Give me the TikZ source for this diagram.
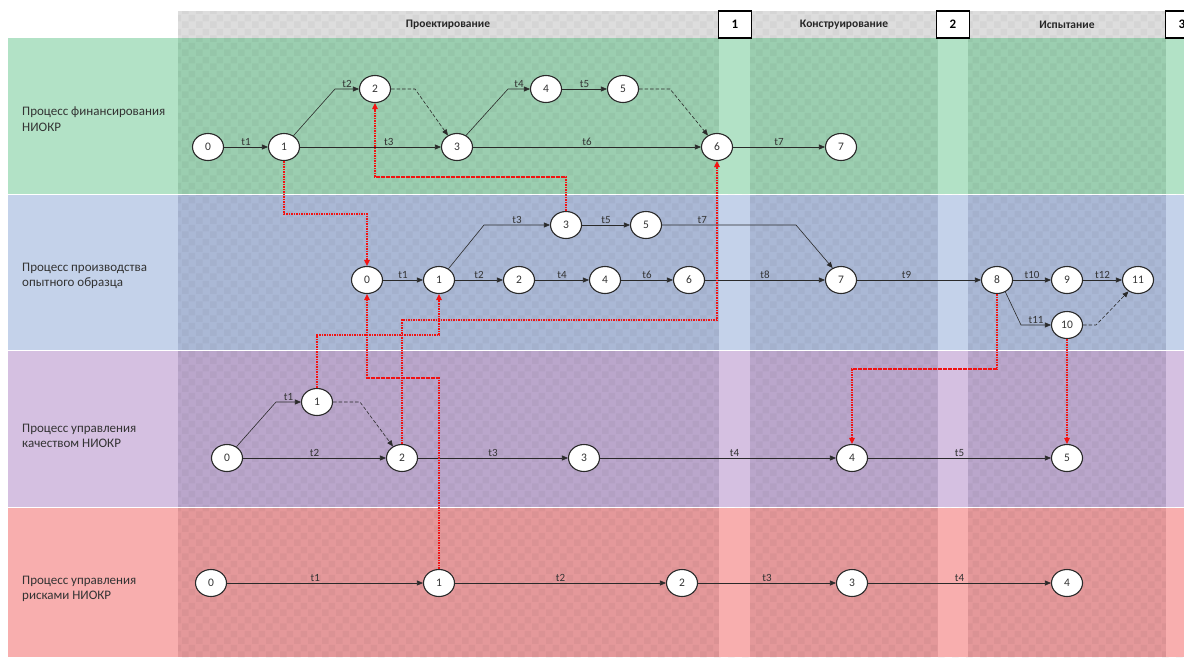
\documentclass[tikz,border=0pt]{standalone}
\usepackage{fontspec}
\setmainfont{Carlito}
\usetikzlibrary{shapes.geometric,arrows.meta,patterns.meta}

\definecolor{grnL}{HTML}{B2E2C6}
\definecolor{grnM}{HTML}{9BCEB0}
\definecolor{bluL}{HTML}{C4D2EA}
\definecolor{bluM}{HTML}{AAB8D5}
\definecolor{purL}{HTML}{D5C0E1}
\definecolor{purM}{HTML}{BAA6CB}
\definecolor{redL}{HTML}{F8AEAE}
\definecolor{redM}{HTML}{E4989A}
\definecolor{hdr}{HTML}{DDDDDD}
\definecolor{ink}{HTML}{2A2A2A}
\definecolor{txt}{HTML}{333333}
\definecolor{depred}{HTML}{F21212}

% soft checkered texture of the working areas
\tikzdeclarepattern{
  name=softcheck,
  type=uncolored,
  bottom left={(0pt,0pt)},
  top right={(14pt,14pt)},
  tile size={(14pt,14pt)},
  code={
    \fill (0pt,0pt) rectangle (7pt,7pt);
    \fill (7pt,7pt) rectangle (14pt,14pt);
  }
}

\begin{document}
\begin{tikzpicture}[x=1pt,y=-1pt,
  ev/.style={ellipse, draw=ink, line width=1.1pt, fill=white,
    minimum width=31pt, minimum height=27pt, inner sep=0pt,
    font=\fontsize{11.5}{11.5}\selectfont, text=txt},
  act/.style={draw=ink, line width=0.6pt, -{Triangle[length=6pt,width=5pt]}},
  dum/.style={act, dash pattern=on 3.5pt off 2pt},
  dep/.style={draw=depred, line width=1.6pt, dash pattern=on 1.6pt off 0.9pt,
    -{Triangle[length=6pt,width=5.5pt]}},
  tl/.style={above, inner sep=1.5pt, font=\fontsize{11}{12}\selectfont, text=txt},
  lanelbl/.style={anchor=west, inner sep=0pt, align=left,
    font=\fontsize{13}{15.5}\selectfont, text=txt},
  phase/.style={font=\bfseries\fontsize{11.5}{12}\selectfont, text=black!85},
  gate/.style={draw=black, line width=1.2pt, fill=white, minimum width=33pt,
    minimum height=27pt, inner sep=0pt, font=\bfseries\fontsize{13}{13}\selectfont},
  texture/.style={pattern=softcheck, pattern color=black, opacity=0.035}
]
\useasboundingbox (0,0) rectangle (1184,657);
\fill[white] (0,0) rectangle (1184,657);

% header strip with phase names
\fill[hdr] (178,11) rectangle (1184,38);

% swim lanes: label column, working area, light milestone strips
\fill[grnL] (8,38) rectangle (178,194);
\fill[grnM] (178,38) rectangle (1184,194);
\fill[bluL] (8,195) rectangle (178,350);
\fill[bluM] (178,195) rectangle (1184,350);
\fill[purL] (8,351) rectangle (178,507);
\fill[purM] (178,351) rectangle (1184,507);
\fill[redL] (8,508) rectangle (178,657);
\fill[redM] (178,508) rectangle (1184,657);
\fill[texture] (178,11) rectangle (1184,657);
\foreach \xa/\xb in {719/750, 938/968, 1166/1184}{
  \fill[grnL] (\xa,38) rectangle (\xb,194);
  \fill[bluL] (\xa,195) rectangle (\xb,350);
  \fill[purL] (\xa,351) rectangle (\xb,507);
  \fill[redL] (\xa,508) rectangle (\xb,657);
}
\foreach \yy in {194.5,350.5,507.5}{
  \draw[white, opacity=0.7, line width=1.5pt] (8,\yy) -- (1184,\yy);
}

% phase names and milestone gates
\node[phase] (phA) at (448,25) {Проектирование};
\node[phase] (phB) at (844,25) {Конструирование};
\node[phase] (phC) at (1067,25) {Испытание};
\node[gate] (gate1) at (735,24.5) {1};
\node[gate] (gate2) at (953,24.5) {2};
\node[gate] (gate3) at (1182,24.5) {3};

% lane titles
\node[lanelbl] (lblG) at (22,119) {Процесс финансирования\\НИОКР};
\node[lanelbl] (lblB) at (22,276) {Процесс производства\\опытного образца};
\node[lanelbl] (lblP) at (22,436) {Процесс управления\\качеством НИОКР};
\node[lanelbl] (lblR) at (22,589) {Процесс управления\\рисками НИОКР};

% financing events
\node[ev] (G0) at (208,147) {0};
\node[ev] (G1) at (284,147) {1};
\node[ev] (G2) at (375,89) {2};
\node[ev] (G3) at (457,147) {3};
\node[ev] (G4) at (546,89) {4};
\node[ev] (G5) at (623,89) {5};
\node[ev] (G6) at (717,147) {6};
\node[ev] (G7) at (841,147) {7};

% prototype production events
\node[ev] (B0) at (367,280) {0};
\node[ev] (B1) at (439,280) {1};
\node[ev] (B2) at (519,280) {2};
\node[ev] (B3) at (566,225) {3};
\node[ev] (B4) at (605,280) {4};
\node[ev] (B5) at (646,225) {5};
\node[ev] (B6) at (689,280) {6};
\node[ev] (B7) at (841,280) {7};
\node[ev] (B8) at (997,280) {8};
\node[ev] (B9) at (1067,280) {9};
\node[ev] (B10) at (1067,325) {10};
\node[ev] (B11) at (1138,280) {11};

% quality management events
\node[ev] (P0) at (227,458) {0};
\node[ev] (P1) at (317,402) {1};
\node[ev] (P2) at (402,458) {2};
\node[ev] (P3) at (584,458) {3};
\node[ev] (P4) at (852,458) {4};
\node[ev] (P5) at (1067,458) {5};

% risk management events
\node[ev] (R0) at (211,583) {0};
\node[ev] (R1) at (439,583) {1};
\node[ev] (R2) at (682,583) {2};
\node[ev] (R3) at (852,583) {3};
\node[ev] (R4) at (1067,583) {4};

% financing activities
\draw[act] (G0) -- node[tl]{t1} (G1);
\draw[act] (G1.50) -- (335,89) -- node[tl]{t2} (G2);
\draw[dum] (G2) -- (415,89) -- (G3.128);
\draw[act] (G1) -- node[tl,pos=0.63]{t3} (G3);
\draw[act] (G3.52) -- (508,89) -- node[tl]{t4} (G4);
\draw[act] (G4) -- node[tl]{t5} (G5);
\draw[dum] (G5) -- (670,89) -- (G6.128);
\draw[act] (G3) -- node[tl]{t6} (G6);
\draw[act] (G6) -- node[tl]{t7} (G7);

% production activities
\draw[act] (B0) -- node[tl]{t1} (B1);
\draw[act] (B1.50) -- (484,225) -- node[tl]{t3} (B3);
\draw[act] (B1) -- node[tl]{t2} (B2);
\draw[act] (B3) -- node[tl]{t5} (B5);
\draw[act] (B2) -- node[tl]{t4} (B4);
\draw[act] (B4) -- node[tl]{t6} (B6);
\draw[act] (B5) -- node[tl,pos=0.3]{t7} (796,225) -- (B7.125);
\draw[act] (B6) -- node[tl]{t8} (B7);
\draw[act] (B7) -- node[tl,pos=0.4]{t9} (B8);
\draw[act] (B8) -- node[tl]{t10} (B9);
\draw[act] (B9) -- node[tl]{t12} (B11);
\draw[act] (B8.-55) -- (1021,325) -- node[tl]{t11} (B10);
\draw[dum] (B10) -- (1096,325) -- (B11.-130);

% quality activities
\draw[act] (P0.50) -- (276,402) -- node[tl]{t1} (P1);
\draw[act] (P0) -- node[tl]{t2} (P2);
\draw[dum] (P1) -- (360,402) -- (P2.128);
\draw[act] (P2) -- node[tl]{t3} (P3);
\draw[act] (P3) -- node[tl,pos=0.57]{t4} (P4);
\draw[act] (P4) -- node[tl]{t5} (P5);

% risk activities
\draw[act] (R0) -- node[tl,pos=0.45]{t1} (R1);
\draw[act] (R1) -- node[tl]{t2} (R2);
\draw[act] (R2) -- node[tl]{t3} (R3);
\draw[act] (R3) -- node[tl]{t4} (R4);

% cross-process dependencies
\draw[dep] (G1.south) -- ++(0,53) -| (B0.north);
\draw[dep] (B3.north) -- ++(0,-34) -| (G2.south);
\draw[dep] (P1.north) -- ++(0,-53) -| (B1.south);
\draw[dep] (P2.north) -- ++(0,-124) -| (G6.south);
\draw[dep] (R1.north) -- ++(0,-191) -| (B0.south);
\draw[dep] (B8.south) -- ++(0,75) -| (P4.north);
\draw[dep] (B10.south) -- (B10.south |- P5.north);
\end{tikzpicture}
\end{document}
